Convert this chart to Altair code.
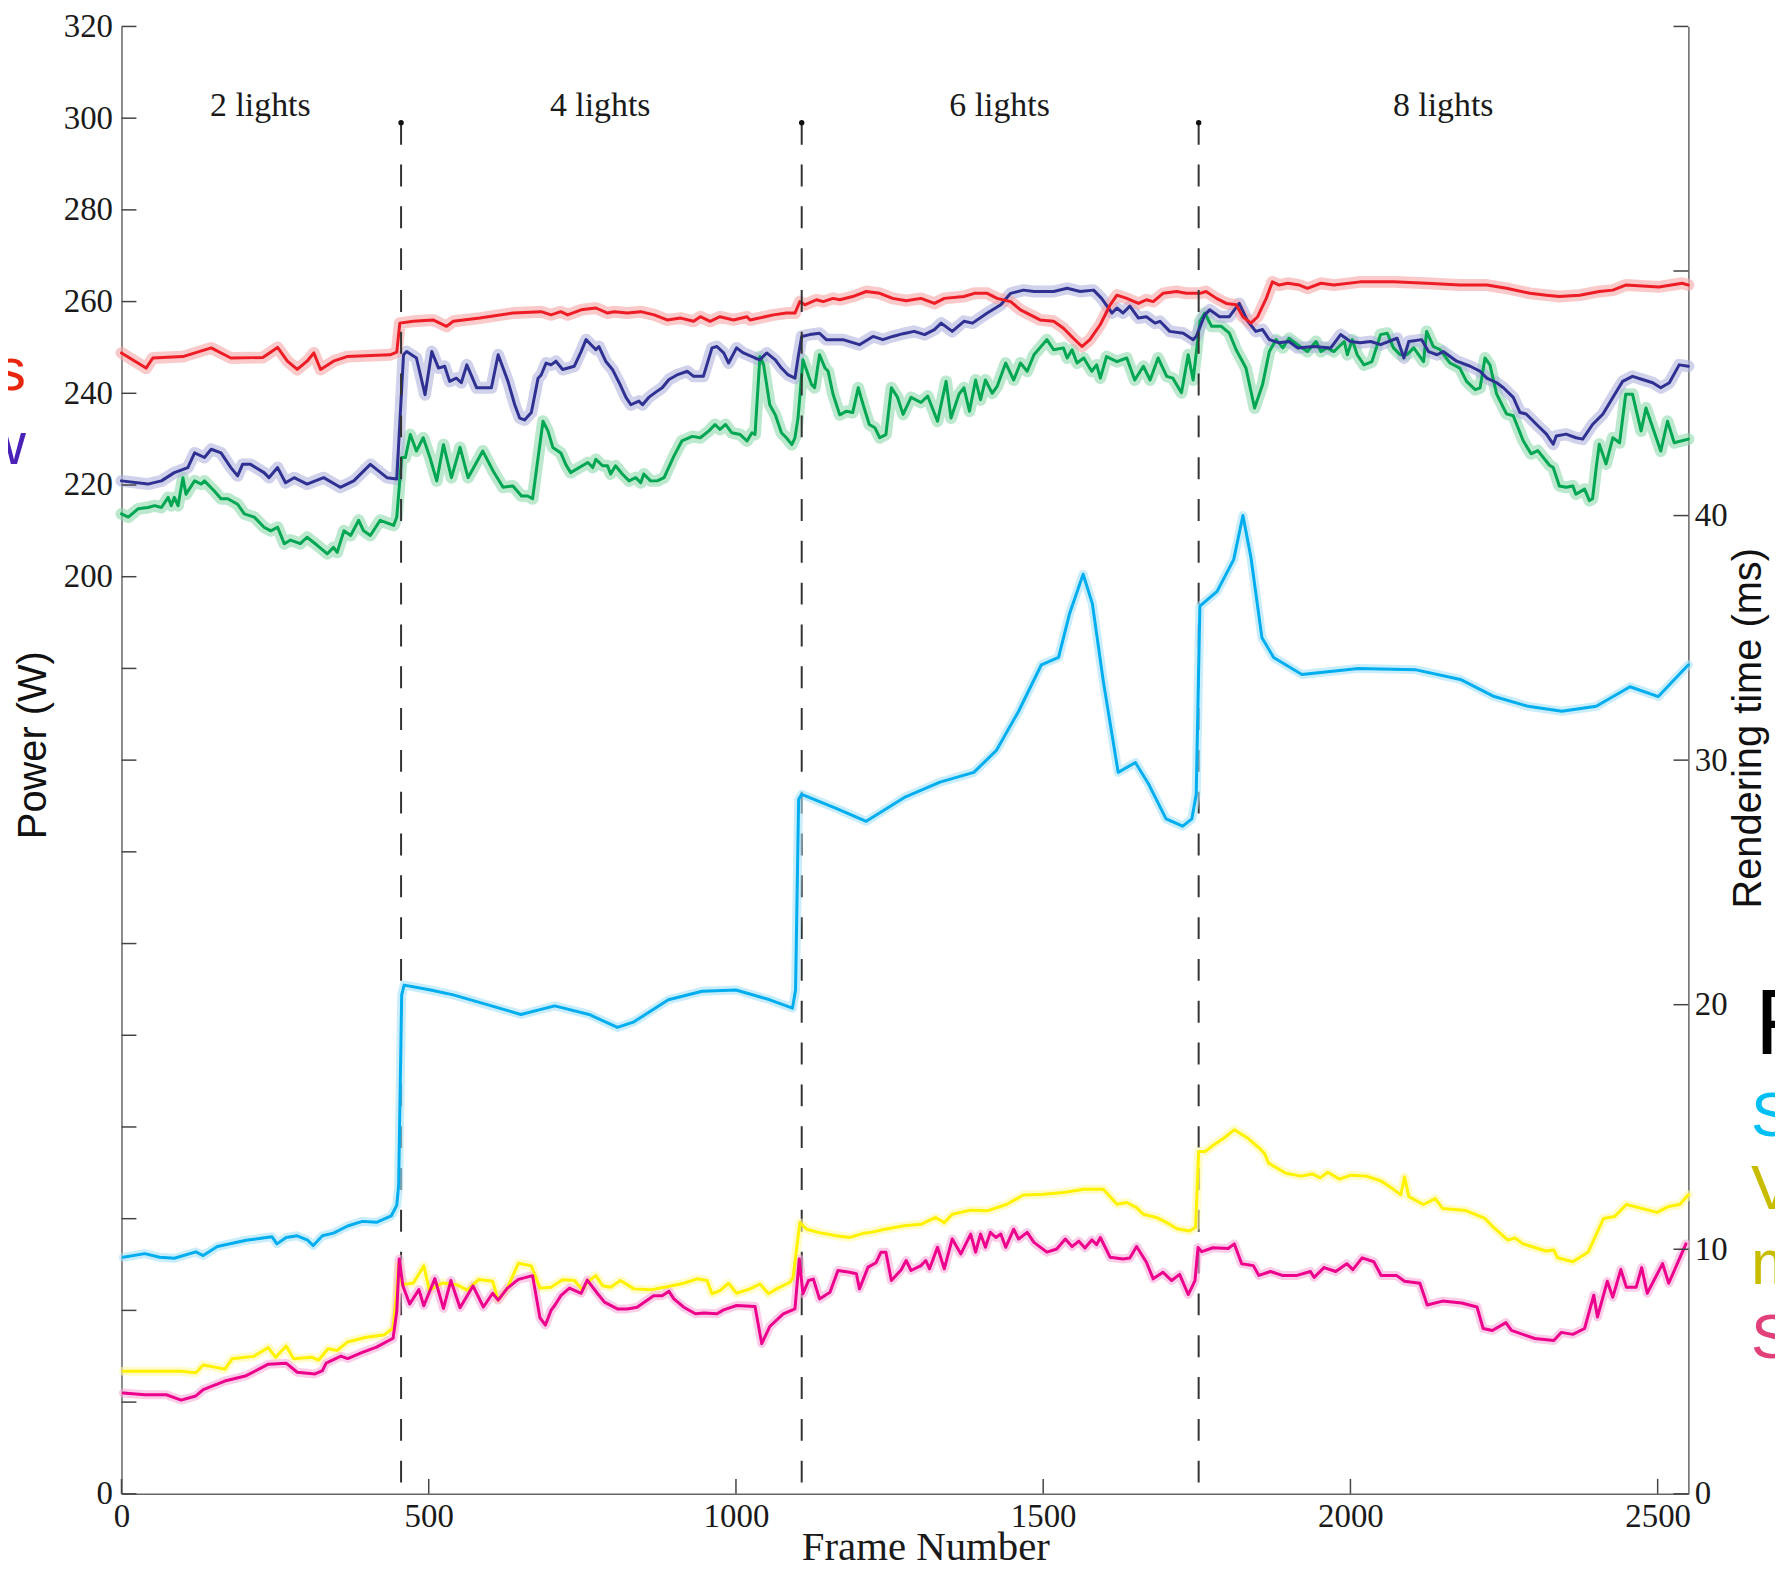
import altair as alt
import pandas as pd

# ---------------- data ----------------
red_frames = [0, 40, 51, 100, 146, 178, 230, 254, 270, 286, 302, 313, 324, 345, 367, 437, 448, 453, 475, 507, 529, 540, 583, 637, 683, 699, 715, 726, 748, 772, 791, 802, 823, 845, 867, 888, 910, 931, 942, 958, 974, 996, 1018, 1023, 1061, 1082, 1096, 1104, 1112, 1131, 1142, 1158, 1169, 1190, 1212, 1234, 1255, 1277, 1301, 1323, 1339, 1371, 1388, 1409, 1425, 1447, 1463, 1479, 1495, 1517, 1533, 1549, 1563, 1576, 1593, 1609, 1620, 1636, 1655, 1668, 1679, 1695, 1717, 1733, 1755, 1765, 1782, 1798, 1814, 1825, 1838, 1849, 1863, 1873, 1884, 1898, 1917, 1930, 1952, 1973, 2016, 2070, 2124, 2178, 2222, 2254, 2292, 2319, 2340, 2373, 2405, 2427, 2448, 2502, 2540, 2550]
red_power = [248.8, 245.5, 247.7, 248.0, 249.9, 247.7, 247.8, 250.0, 247.0, 245.2, 247.0, 248.8, 245.2, 247.0, 248.0, 248.4, 249.0, 255.3, 255.7, 256.0, 254.6, 255.7, 256.4, 257.5, 257.8, 257.1, 257.8, 257.1, 258.2, 258.6, 257.5, 257.8, 257.5, 257.8, 257.1, 256.0, 256.4, 255.7, 256.7, 255.7, 256.7, 256.0, 256.7, 256.0, 257.1, 257.5, 257.5, 260.0, 259.3, 260.4, 260.0, 260.7, 260.4, 261.1, 262.2, 261.8, 260.7, 260.2, 260.7, 259.6, 260.7, 261.1, 261.8, 261.8, 260.7, 260.0, 258.2, 257.1, 256.0, 255.7, 254.2, 252.0, 250.2, 251.7, 255.0, 259.3, 261.4, 260.7, 259.6, 260.4, 260.0, 261.8, 262.2, 261.8, 261.8, 262.2, 260.7, 259.6, 259.3, 256.7, 255.3, 256.7, 260.7, 264.3, 263.6, 264.0, 263.6, 262.9, 264.0, 263.6, 264.3, 264.3, 264.0, 263.6, 263.6, 262.9, 261.8, 261.4, 261.1, 261.4, 262.2, 262.5, 263.6, 263.2, 264.0, 263.6]

navy_frames = [0, 43, 65, 86, 108, 119, 135, 146, 162, 178, 189, 197, 210, 232, 240, 254, 267, 281, 302, 329, 356, 378, 405, 432, 448, 459, 464, 480, 494, 505, 516, 526, 534, 545, 553, 562, 578, 602, 613, 629, 640, 648, 656, 667, 678, 683, 691, 699, 707, 718, 737, 748, 756, 767, 772, 777, 788, 799, 810, 821, 829, 842, 848, 858, 869, 880, 891, 904, 921, 931, 947, 961, 969, 980, 988, 1001, 1012, 1031, 1039, 1050, 1064, 1074, 1085, 1096, 1101, 1107, 1120, 1136, 1147, 1174, 1201, 1223, 1239, 1255, 1272, 1290, 1307, 1323, 1334, 1352, 1371, 1385, 1409, 1431, 1447, 1468, 1485, 1517, 1539, 1560, 1582, 1595, 1612, 1620, 1630, 1641, 1655, 1668, 1682, 1690, 1706, 1728, 1744, 1749, 1763, 1771, 1787, 1803, 1819, 1833, 1846, 1857, 1868, 1884, 1900, 1914, 1941, 1968, 1984, 2000, 2016, 2033, 2049, 2076, 2087, 2095, 2116, 2127, 2141, 2151, 2173, 2195, 2211, 2222, 2238, 2249, 2265, 2276, 2286, 2303, 2319, 2330, 2335, 2351, 2367, 2378, 2394, 2411, 2427, 2443, 2459, 2475, 2492, 2505, 2519, 2535, 2550]
navy_power = [220.9, 220.2, 220.9, 222.7, 223.8, 227.0, 226.0, 227.8, 227.0, 223.8, 222.0, 224.5, 224.5, 222.7, 221.6, 223.8, 220.5, 221.6, 220.2, 221.6, 219.5, 220.9, 224.5, 221.6, 221.3, 248.4, 249.1, 247.7, 239.7, 249.1, 245.5, 245.9, 242.6, 243.3, 242.3, 246.2, 241.2, 241.2, 248.4, 242.6, 237.5, 234.6, 234.2, 235.8, 243.3, 244.0, 246.6, 246.2, 247.0, 245.2, 245.9, 249.1, 251.7, 250.2, 249.5, 250.2, 247.0, 245.2, 242.3, 239.1, 237.5, 238.3, 237.5, 239.1, 240.2, 241.2, 243.0, 244.0, 244.8, 243.7, 243.7, 249.9, 250.2, 248.8, 246.6, 249.9, 248.8, 247.7, 247.3, 248.8, 247.3, 245.5, 244.0, 243.3, 247.7, 252.4, 252.8, 253.1, 251.7, 251.7, 250.6, 252.4, 251.7, 252.4, 253.0, 253.5, 252.8, 253.9, 255.3, 253.5, 255.7, 255.3, 257.5, 259.3, 261.8, 262.5, 262.2, 262.2, 262.9, 262.2, 262.5, 260.7, 257.5, 258.6, 257.5, 259.0, 256.4, 256.7, 255.3, 255.7, 253.5, 253.1, 251.7, 252.4, 257.1, 258.2, 256.7, 256.7, 259.6, 255.7, 253.5, 253.9, 251.7, 251.0, 251.3, 249.9, 250.2, 249.9, 252.8, 251.3, 251.0, 251.3, 250.6, 252.0, 247.7, 251.3, 251.7, 249.1, 248.4, 249.1, 247.0, 245.9, 244.8, 243.3, 242.3, 241.2, 239.1, 235.8, 235.5, 233.2, 231.1, 228.9, 230.7, 231.1, 230.3, 230.0, 233.2, 235.5, 239.1, 242.6, 243.7, 243.0, 242.3, 241.2, 242.3, 246.2, 245.9]

green_frames = [0, 11, 27, 43, 54, 65, 76, 81, 86, 92, 100, 105, 119, 130, 135, 151, 162, 173, 189, 200, 216, 232, 243, 254, 265, 275, 291, 302, 319, 335, 345, 351, 362, 373, 386, 394, 405, 421, 443, 448, 456, 462, 470, 480, 491, 502, 513, 524, 537, 551, 564, 588, 605, 621, 637, 651, 661, 669, 678, 686, 694, 702, 715, 723, 731, 745, 759, 767, 772, 783, 791, 796, 804, 815, 826, 837, 845, 850, 861, 872, 883, 899, 912, 929, 942, 956, 966, 974, 983, 993, 1007, 1018, 1026, 1031, 1039, 1045, 1055, 1064, 1074, 1082, 1091, 1096, 1101, 1109, 1123, 1128, 1136, 1145, 1150, 1158, 1169, 1180, 1190, 1199, 1207, 1217, 1226, 1234, 1244, 1253, 1263, 1272, 1285, 1301, 1312, 1328, 1342, 1350, 1363, 1371, 1380, 1390, 1398, 1406, 1417, 1425, 1439, 1452, 1463, 1474, 1485, 1506, 1517, 1533, 1539, 1547, 1555, 1566, 1579, 1587, 1593, 1603, 1620, 1636, 1649, 1663, 1674, 1687, 1701, 1711, 1725, 1736, 1744, 1755, 1763, 1774, 1790, 1803, 1814, 1830, 1844, 1857, 1868, 1879, 1890, 1900, 1914, 1930, 1944, 1952, 1962, 1973, 1990, 1995, 2003, 2011, 2022, 2035, 2049, 2060, 2070, 2081, 2092, 2103, 2119, 2124, 2135, 2146, 2162, 2178, 2189, 2203, 2211, 2219, 2227, 2238, 2254, 2265, 2281, 2294, 2305, 2324, 2330, 2340, 2351, 2362, 2367, 2381, 2389, 2394, 2400, 2405, 2416, 2427, 2438, 2448, 2459, 2473, 2481, 2505, 2516, 2527, 2550]
green_power = [213.7, 213.0, 214.8, 215.1, 215.5, 215.1, 217.3, 215.5, 217.3, 215.5, 221.6, 218.0, 220.9, 220.2, 220.9, 218.7, 217.0, 217.0, 215.8, 213.7, 213.0, 210.8, 210.0, 210.8, 207.2, 208.0, 207.2, 208.6, 206.8, 205.0, 206.4, 205.3, 210.0, 209.0, 212.3, 210.0, 209.0, 212.3, 211.2, 213.0, 226.0, 226.0, 231.0, 227.4, 230.3, 226.0, 220.9, 228.8, 221.6, 228.2, 221.6, 227.4, 223.0, 219.5, 219.8, 217.6, 217.6, 217.0, 226.0, 233.9, 231.8, 228.2, 227.0, 224.5, 222.7, 223.8, 224.9, 223.8, 225.6, 224.2, 224.2, 222.4, 224.2, 222.4, 220.9, 221.6, 220.5, 222.4, 220.9, 220.9, 221.6, 226.3, 229.6, 230.6, 230.3, 231.8, 233.2, 232.1, 233.2, 231.4, 231.0, 229.6, 231.4, 231.0, 248.0, 246.2, 237.5, 235.3, 231.4, 230.3, 228.8, 230.3, 234.6, 247.3, 241.9, 241.2, 248.4, 245.5, 244.8, 239.8, 235.3, 236.1, 235.8, 241.2, 237.5, 233.2, 232.5, 230.3, 231.0, 241.2, 239.1, 235.4, 239.1, 238.0, 239.4, 233.9, 242.6, 234.6, 239.8, 241.2, 236.1, 242.9, 238.6, 242.9, 240.0, 241.5, 246.6, 242.9, 246.6, 244.8, 248.4, 251.7, 249.5, 249.9, 247.7, 249.5, 246.6, 247.7, 244.8, 246.2, 243.3, 248.0, 246.9, 247.7, 242.9, 245.9, 242.9, 247.7, 243.7, 243.3, 240.1, 248.4, 242.9, 255.7, 257.5, 254.6, 254.6, 253.1, 249.5, 245.5, 236.8, 241.9, 249.1, 251.7, 249.9, 252.0, 250.6, 249.1, 251.3, 249.1, 249.9, 249.1, 251.3, 248.4, 251.7, 248.4, 246.2, 246.9, 252.8, 253.1, 249.9, 248.4, 248.4, 249.9, 246.9, 253.5, 250.2, 249.5, 246.6, 245.5, 242.6, 240.8, 241.2, 247.7, 246.2, 239.8, 235.5, 235.1, 229.7, 226.8, 227.5, 224.3, 223.8, 219.8, 219.5, 219.8, 218.0, 219.1, 216.6, 217.0, 223.8, 228.9, 224.6, 230.3, 229.2, 239.8, 239.8, 231.8, 236.8, 227.4, 233.9, 229.2, 230.0]

cyan_frames = [3, 38, 62, 86, 121, 133, 156, 203, 245, 253, 268, 286, 303, 312, 327, 345, 368, 392, 415, 439, 448, 451, 456, 460, 503, 540, 595, 650, 705, 761, 807, 834, 890, 945, 1000, 1055, 1092, 1097, 1102, 1107, 1166, 1212, 1276, 1332, 1387, 1424, 1460, 1497, 1525, 1543, 1565, 1580, 1598, 1622, 1650, 1672, 1700, 1727, 1742, 1749, 1755, 1783, 1810, 1825, 1838, 1856, 1875, 1921, 2013, 2105, 2179, 2234, 2289, 2344, 2400, 2455, 2501, 2550]
cyan_ms = [9.67, 9.82, 9.67, 9.63, 9.89, 9.74, 10.11, 10.37, 10.51, 10.22, 10.48, 10.55, 10.37, 10.15, 10.55, 10.66, 10.95, 11.14, 11.10, 11.36, 11.8, 12.6, 20.4, 20.8, 20.6, 20.4, 20.0, 19.6, 19.95, 19.6, 19.07, 19.3, 20.2, 20.55, 20.6, 20.2, 19.86, 20.6, 28.4, 28.6, 28.0, 27.5, 28.5, 29.1, 29.5, 30.4, 32.0, 33.9, 34.2, 36.0, 37.6, 36.4, 33.2, 29.5, 29.9, 29.0, 27.6, 27.3, 27.6, 28.6, 36.3, 36.9, 38.2, 40.0, 38.3, 35.0, 34.2, 33.5, 33.75, 33.7, 33.3, 32.6, 32.2, 32.0, 32.2, 33.0, 32.6, 33.9]

yellow_frames = [3, 38, 97, 121, 133, 156, 168, 180, 215, 239, 251, 268, 280, 310, 321, 336, 351, 368, 398, 427, 442, 448, 451, 457, 475, 492, 501, 522, 545, 563, 581, 604, 613, 628, 646, 667, 681, 699, 718, 737, 750, 758, 772, 783, 796, 812, 834, 861, 888, 915, 937, 953, 961, 974, 988, 1001, 1023, 1039, 1053, 1066, 1088, 1093, 1104, 1115, 1136, 1163, 1185, 1207, 1222, 1242, 1274, 1301, 1325, 1339, 1352, 1382, 1409, 1441, 1468, 1501, 1533, 1566, 1598, 1620, 1636, 1652, 1663, 1684, 1701, 1718, 1738, 1748, 1753, 1764, 1776, 1795, 1811, 1832, 1854, 1860, 1867, 1895, 1920, 1938, 1951, 1963, 1982, 2001, 2026, 2050, 2069, 2082, 2088, 2095, 2119, 2138, 2150, 2188, 2219, 2231, 2256, 2268, 2281, 2318, 2331, 2337, 2362, 2387, 2412, 2430, 2449, 2462, 2499, 2518, 2536, 2550]
yellow_ms = [5.01, 5.01, 5.01, 4.95, 5.27, 5.16, 5.09, 5.52, 5.62, 5.98, 5.58, 6.04, 5.52, 5.58, 5.47, 5.93, 5.86, 6.21, 6.40, 6.49, 6.78, 8.26, 9.4, 8.55, 8.62, 9.32, 8.33, 8.62, 8.55, 8.33, 8.76, 8.69, 7.92, 8.41, 9.43, 9.32, 8.41, 8.45, 8.75, 8.72, 8.34, 8.65, 8.92, 8.51, 8.45, 8.72, 8.38, 8.34, 8.47, 8.61, 8.79, 8.72, 8.18, 8.31, 8.61, 8.20, 8.38, 8.58, 8.18, 8.38, 8.65, 8.85, 11.09, 10.82, 10.68, 10.55, 10.48, 10.65, 10.7, 10.82, 10.96, 11.02, 11.30, 11.09, 11.43, 11.6, 11.57, 11.84, 12.22, 12.25, 12.32, 12.45, 12.45, 11.84, 11.91, 11.7, 11.43, 11.3, 11.09, 10.84, 10.75, 10.9, 14.0, 14.0, 14.24, 14.56, 14.89, 14.56, 14.08, 13.92, 13.52, 13.11, 12.99, 13.08, 12.92, 13.15, 12.87, 13.03, 12.99, 12.79, 12.47, 12.23, 12.96, 12.15, 11.83, 12.07, 11.67, 11.58, 11.26, 10.94, 10.38, 10.46, 10.22, 9.93, 9.97, 9.65, 9.49, 9.89, 11.26, 11.34, 11.83, 11.75, 11.51, 11.75, 11.83, 12.23]

pink_frames = [3, 38, 73, 97, 121, 133, 168, 203, 239, 268, 286, 315, 327, 333, 357, 368, 392, 415, 442, 448, 452, 458, 469, 484, 492, 510, 524, 536, 551, 572, 589, 604, 613, 628, 646, 669, 681, 690, 699, 705, 715, 729, 748, 758, 775, 786, 807, 823, 839, 866, 880, 891, 899, 915, 934, 948, 969, 980, 1001, 1031, 1042, 1055, 1077, 1096, 1103, 1109, 1118, 1126, 1136, 1153, 1166, 1185, 1196, 1201, 1215, 1228, 1236, 1244, 1253, 1269, 1277, 1285, 1301, 1309, 1315, 1328, 1339, 1352, 1366, 1382, 1390, 1398, 1406, 1414, 1423, 1431, 1439, 1452, 1460, 1474, 1485, 1506, 1522, 1536, 1547, 1558, 1568, 1579, 1587, 1593, 1609, 1630, 1641, 1652, 1668, 1679, 1695, 1709, 1722, 1736, 1742, 1747, 1752, 1758, 1776, 1801, 1811, 1823, 1842, 1851, 1870, 1889, 1913, 1935, 1941, 1957, 1976, 1994, 2004, 2019, 2038, 2050, 2075, 2088, 2113, 2125, 2150, 2181, 2206, 2216, 2231, 2253, 2262, 2300, 2331, 2343, 2362, 2381, 2396, 2402, 2418, 2427, 2440, 2449, 2465, 2474, 2483, 2508, 2518, 2546]
pink_ms = [4.12, 4.05, 4.05, 3.83, 4.0, 4.26, 4.61, 4.83, 5.30, 5.34, 4.97, 4.90, 5.04, 5.34, 5.63, 5.53, 5.78, 6.00, 6.36, 7.46, 9.6, 8.5, 7.76, 8.35, 7.69, 8.8, 7.58, 8.72, 7.61, 8.5, 7.64, 8.2, 7.92, 8.41, 8.77, 8.92, 7.2, 6.9, 7.5, 7.7, 8.1, 8.41, 8.2, 8.74, 8.18, 7.84, 7.56, 7.56, 7.63, 8.1, 8.1, 8.28, 7.97, 7.63, 7.36, 7.39, 7.36, 7.52, 7.70, 7.66, 6.14, 6.84, 7.36, 7.56, 9.6, 8.18, 8.72, 8.78, 7.97, 8.24, 9.13, 9.06, 9.0, 8.38, 9.27, 9.45, 9.88, 9.88, 8.72, 9.16, 9.54, 9.13, 9.33, 9.54, 9.2, 10.08, 9.2, 10.42, 9.81, 10.62, 9.88, 10.62, 10.08, 10.69, 10.48, 10.62, 10.08, 10.82, 10.42, 10.69, 10.28, 9.88, 10.01, 10.42, 10.11, 10.33, 10.05, 10.38, 10.19, 10.48, 9.67, 9.6, 9.64, 10.11, 9.47, 8.79, 9.06, 8.72, 8.97, 8.15, 8.45, 8.72, 10.07, 9.9, 10.06, 10.03, 10.22, 9.41, 9.33, 8.93, 9.09, 8.93, 8.93, 9.09, 8.85, 9.25, 9.09, 9.41, 9.17, 9.65, 9.49, 8.93, 8.93, 8.69, 8.61, 7.72, 7.88, 7.80, 7.64, 6.76, 6.68, 7.0, 6.68, 6.35, 6.27, 6.6, 6.52, 6.76, 8.12, 7.23, 8.69, 8.04, 9.17, 8.45, 8.45, 9.25, 8.20, 9.41, 8.61, 10.22]

phase_frames = [455, 1107, 1753]
light_labels = ["2 lights", "4 lights", "6 lights", "8 lights"]
light_centers = [226, 779, 1429, 2151]

power_tick_values = list(range(0, 321, 20))
power_label_values = [0, 200, 220, 240, 260, 280, 300, 320]
ms_tick_values = [0, 10, 20, 30, 40, 50, 60]
ms_label_values = [0, 10, 20, 30, 40]
frame_tick_values = [0, 500, 1000, 1500, 2000, 2500]

left_legend = ["s", "w"]
left_legend_colors = ["#e8260e", "#4a22b8"]
right_legend = ["F", "S", "V", "m", "S"]
right_legend_colors = ["#000000", "#00bff3", "#c8bc00", "#c8bc00", "#e2407a"]

# ---------------- layout constants ----------------
W, H = 1574, 1474
SERIF = "Liberation Serif"
SANS = "Liberation Sans"
TICK = 15

xscale = alt.Scale(domain=[0, 2550], nice=False, zero=False)
pscale = alt.Scale(domain=[0, 320], nice=False, zero=True)
mscale = alt.Scale(domain=[0, 60], nice=False, zero=True)

AXIS_STYLE = dict(ticks=False, grid=False, title="", format="d", labelFont=SERIF,
                  labelFontSize=33, labelColor="#1a1a1a", labelOverlap=False,
                  labelFlush=False, domainColor="#666666", domainWidth=1.5)
x_axis = alt.Axis(values=frame_tick_values, orient="bottom", labelPadding=7, **AXIS_STYLE)
left_axis = alt.Axis(values=power_label_values, orient="left", labelPadding=9, **AXIS_STYLE)
right_axis = alt.Axis(values=ms_label_values, orient="right", labelPadding=6, **AXIS_STYLE)


def df(frames, vals):
    return pd.DataFrame({"frame": frames, "v": vals})


def X(field="frame:Q"):
    return alt.X(field, scale=xscale, axis=x_axis)


def line(frames, vals, color, scale, yaxis, width, opacity=1.0):
    return alt.Chart(df(frames, vals)).mark_line(
        color=color, strokeWidth=width, opacity=opacity, strokeJoin="round", strokeCap="round"
    ).encode(
        x=X(),
        y=alt.Y("v:Q", scale=scale, axis=yaxis),
        order="frame:Q",
    )


power_series = [
    (green_frames, green_power, "#00a651", "#8fd9ad"),
    (navy_frames, navy_power, "#2e3192", "#b0b2dc"),
    (red_frames, red_power, "#ee1c25", "#f7a6a9"),
]
ms_series = [
    (cyan_frames, cyan_ms, "#00aeef", "#a6e1f8"),
    (yellow_frames, yellow_ms, "#fff200", "#fff9a8"),
    (pink_frames, pink_ms, "#ec008c", "#f6aed8"),
]

# ---------- group A : power (left axis) ----------
layers_a = []
for f, v, c, fc in power_series:
    layers_a.append(line(f, v, fc, pscale, left_axis, 12, 0.6))
for f, v, c, fc in power_series:
    layers_a.append(line(f, v, c, pscale, left_axis, 3))

# inward ticks
layers_a.append(alt.Chart(pd.DataFrame({"v": power_tick_values})).mark_rule(
    color="#444444", strokeWidth=1.5).encode(
    y=alt.Y("v:Q", scale=pscale, axis=left_axis), x=alt.value(0), x2=alt.value(TICK)))
layers_a.append(alt.Chart(pd.DataFrame({"frame": frame_tick_values})).mark_rule(
    color="#444444", strokeWidth=1.5).encode(
    x=X(), y=alt.value(H), y2=alt.value(H - TICK)))

# phase separators
phase_df = pd.DataFrame({"frame": phase_frames, "top": [299.0] * 3, "bottom": [0.0] * 3})
layers_a.append(alt.Chart(phase_df).mark_rule(
    color="#333333", strokeWidth=2, strokeDash=[22, 20]).encode(
    x=X(), y=alt.Y("top:Q", scale=pscale, axis=left_axis), y2="bottom:Q"))
layers_a.append(alt.Chart(phase_df).mark_point(
    filled=True, color="#111111", size=30, opacity=1, shape="circle").encode(
    x=X(), y=alt.Y("top:Q", scale=pscale, axis=left_axis)))

layers_a.append(alt.Chart(pd.DataFrame({"frame": light_centers, "t": light_labels,
                                         "y": [300.5] * 4})).mark_text(
    font=SERIF, fontSize=34, color="#1a1a1a", baseline="alphabetic", align="center").encode(
    x=X(), y=alt.Y("y:Q", scale=pscale, axis=left_axis), text="t:N"))


def label(txt, x, y, size, color, font=SANS, angle=0, align="left", baseline="alphabetic"):
    return alt.Chart(pd.DataFrame({"t": [txt]})).mark_text(
        font=font, fontSize=size, color=color, angle=angle, align=align, baseline=baseline
    ).encode(x=alt.value(x), y=alt.value(y), text="t:N")


layers_a.append(label("Power (W)", -88, 722, 40, "#111111", angle=270,
                      align="center", baseline="middle"))
layers_a.append(label("Rendering time (ms)", 1635, 705, 40, "#111111", angle=270,
                      align="center", baseline="middle"))
layers_a.append(label("Frame Number", 808, 1540, 41, "#1a1a1a", font=SERIF, align="center"))

for t, c, y in zip(left_legend, left_legend_colors, [365, 440]):
    layers_a.append(label(t, -96, y, 60, c, align="right"))
for i, (t, c, y) in enumerate(zip(right_legend, right_legend_colors,
                                  [1032, 1115, 1188, 1263, 1338])):
    layers_a.append(label(t, 1641 if i == 0 else 1637, y, 94 if i == 0 else 63, c))

group_a = alt.layer(*layers_a)

# ---------- group B : rendering time (right axis) ----------
layers_b = []
for f, v, c, fc in ms_series:
    layers_b.append(line(f, v, fc, mscale, right_axis, 9, 0.6))
for f, v, c, fc in ms_series:
    layers_b.append(line(f, v, c, mscale, right_axis, 3))
layers_b.append(alt.Chart(pd.DataFrame({"v": ms_tick_values})).mark_rule(
    color="#444444", strokeWidth=1.5).encode(
    y=alt.Y("v:Q", scale=mscale, axis=right_axis), x=alt.value(W - TICK), x2=alt.value(W)))
group_b = alt.layer(*layers_b)

chart = alt.layer(group_a, group_b).resolve_scale(y="independent").properties(
    width=W, height=H,
    background="white",
    autosize=alt.AutoSizeParams(type="none"),
    padding={"left": 114, "top": 15, "right": 87, "bottom": 73},
).configure_view(strokeWidth=0, stroke="transparent")

chart.save("out.html", embed_options={"renderer": "svg", "actions": False})
